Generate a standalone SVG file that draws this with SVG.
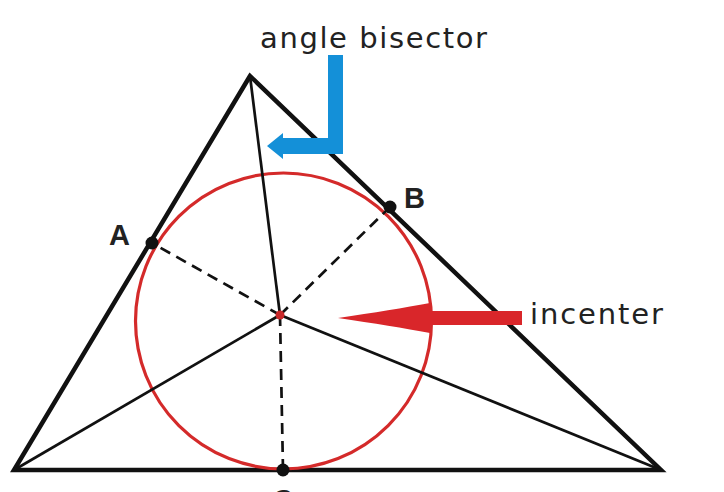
<svg xmlns="http://www.w3.org/2000/svg" width="724" height="492" viewBox="0 0 724 492">
  <style>
    .edge { fill: none; stroke: #111; stroke-width: 4.5; stroke-linejoin: miter; }
    .bis { stroke: #111; stroke-width: 2.7; fill: none; }
    .dash { stroke: #111; stroke-width: 2.7; stroke-dasharray: 11 7; fill: none; }
    .dot { fill: #111; }
    .pt { font-family: "Liberation Sans", Arial, sans-serif; font-weight: bold; font-size: 29px; fill: #222; }
    .lbl { font-family: "DejaVu Sans", Verdana, sans-serif; font-size: 29px; fill: #222; }
  </style>
  <rect width="724" height="492" fill="#fff"/>
  <g id="triangle">
    <polygon class="edge" points="250,76 14,470 661,470"/>
  </g>
  <g id="incircle">
    <circle cx="283.5" cy="321" r="148" fill="none" stroke="#d42a2a" stroke-width="3.2"/>
  </g>
  <g id="connectors">
    <line class="bis" x1="250" y1="76" x2="280" y2="315"/>
    <line class="bis" x1="14" y1="470" x2="280" y2="315"/>
    <line class="bis" x1="661" y1="470" x2="280" y2="315"/>
    <line class="dash" x1="280" y1="315" x2="152" y2="243"/>
    <line class="dash" x1="280" y1="315" x2="390" y2="207"/>
    <line class="dash" x1="280" y1="315" x2="283" y2="470"/>
  </g>
  <g id="incenter-point">
    <circle cx="280" cy="315" r="4.5" fill="#c8282a"/>
  </g>
  <g id="point-A">
    <circle class="dot" cx="152" cy="243" r="6.5"/>
    <text class="pt" x="109" y="245">A</text>
  </g>
  <g id="point-B">
    <circle class="dot" cx="390" cy="207" r="6.5"/>
    <text class="pt" x="404" y="208">B</text>
  </g>
  <g id="point-C">
    <circle class="dot" cx="283" cy="470" r="6.5"/>
    <text class="pt" x="283" y="510" text-anchor="middle">C</text>
  </g>
  <g id="angle-bisector-label">
    <path d="M328,55 L343,55 L343,154 L283,154 L283,159 L267,146 L283,133 L283,138 L328,138 Z" fill="#1490d8"/>
    <text class="lbl" x="260" y="48" textLength="227" lengthAdjust="spacing">angle bisector</text>
  </g>
  <g id="incenter-label">
    <path d="M338,318 Q392,310 430,303 L430,311 L522,311 L522,325 L430,325 L430,333 Q392,326 338,318 Z" fill="#d9262a"/>
    <text class="lbl" x="530" y="324" textLength="133" lengthAdjust="spacing">incenter</text>
  </g>
</svg>
